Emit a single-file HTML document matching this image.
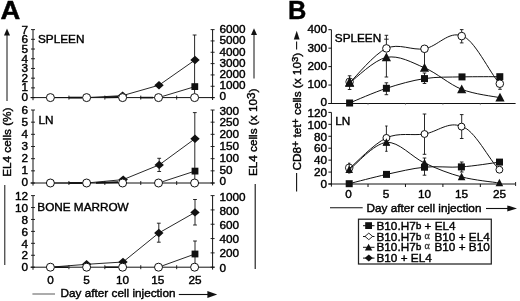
<!DOCTYPE html>
<html><head><meta charset="utf-8"><title>Figure</title>
<style>
html,body{margin:0;padding:0;background:#fff;}
svg{display:block;filter:grayscale(1);}
text{font-family:"Liberation Sans",sans-serif;fill:#000;stroke:#000;stroke-width:0.42px;}
</style></head><body>
<svg width="520" height="301" viewBox="0 0 520 301">
<rect width="520" height="301" fill="#fff"/>
<text transform="translate(0.4,19) scale(1.1,1)" font-size="24.9" font-weight="bold" stroke="#111" stroke-width="0.4">A</text>
<line x1="33" y1="29.6" x2="33" y2="100.19999999999999" stroke="#111" stroke-width="1"/>
<line x1="212.6" y1="29.6" x2="212.6" y2="100.0" stroke="#111" stroke-width="1"/>
<line x1="30.5" y1="97.6" x2="214.6" y2="97.6" stroke="#111" stroke-width="1"/>
<line x1="31" y1="97.6" x2="35" y2="97.6" stroke="#111" stroke-width="0.9"/>
<text x="28" y="101.1" font-size="11.75" text-anchor="end" >0</text>
<line x1="31" y1="87.88571428571429" x2="35" y2="87.88571428571429" stroke="#111" stroke-width="0.9"/>
<text x="28" y="91.4857142857143" font-size="11.75" text-anchor="end" >1</text>
<line x1="31" y1="78.17142857142856" x2="35" y2="78.17142857142856" stroke="#111" stroke-width="0.9"/>
<text x="28" y="81.87142857142857" font-size="11.75" text-anchor="end" >2</text>
<line x1="31" y1="68.45714285714286" x2="35" y2="68.45714285714286" stroke="#111" stroke-width="0.9"/>
<text x="28" y="72.25714285714285" font-size="11.75" text-anchor="end" >3</text>
<line x1="31" y1="58.74285714285714" x2="35" y2="58.74285714285714" stroke="#111" stroke-width="0.9"/>
<text x="28" y="62.642857142857146" font-size="11.75" text-anchor="end" >4</text>
<line x1="31" y1="49.028571428571425" x2="35" y2="49.028571428571425" stroke="#111" stroke-width="0.9"/>
<text x="28" y="53.028571428571425" font-size="11.75" text-anchor="end" >5</text>
<line x1="31" y1="39.31428571428571" x2="35" y2="39.31428571428571" stroke="#111" stroke-width="0.9"/>
<text x="28" y="43.41428571428571" font-size="11.75" text-anchor="end" >6</text>
<line x1="31" y1="29.599999999999994" x2="35" y2="29.599999999999994" stroke="#111" stroke-width="0.9"/>
<text x="28" y="33.8" font-size="11.75" text-anchor="end" >7</text>
<line x1="210.6" y1="97.6" x2="214.6" y2="97.6" stroke="#111" stroke-width="0.9"/>
<text x="219.4" y="100.39999999999999" font-size="11.75" text-anchor="start" >0</text>
<line x1="210.6" y1="86.26666666666667" x2="214.6" y2="86.26666666666667" stroke="#111" stroke-width="0.9"/>
<text x="219.4" y="89.21666666666665" font-size="11.75" text-anchor="start" >1000</text>
<line x1="210.6" y1="74.93333333333332" x2="214.6" y2="74.93333333333332" stroke="#111" stroke-width="0.9"/>
<text x="219.4" y="78.03333333333332" font-size="11.75" text-anchor="start" >2000</text>
<line x1="210.6" y1="63.599999999999994" x2="214.6" y2="63.599999999999994" stroke="#111" stroke-width="0.9"/>
<text x="219.4" y="66.85" font-size="11.75" text-anchor="start" >3000</text>
<line x1="210.6" y1="52.26666666666666" x2="214.6" y2="52.26666666666666" stroke="#111" stroke-width="0.9"/>
<text x="219.4" y="55.66666666666666" font-size="11.75" text-anchor="start" >4000</text>
<line x1="210.6" y1="40.93333333333333" x2="214.6" y2="40.93333333333333" stroke="#111" stroke-width="0.9"/>
<text x="219.4" y="44.483333333333334" font-size="11.75" text-anchor="start" >5000</text>
<line x1="210.6" y1="29.599999999999994" x2="214.6" y2="29.599999999999994" stroke="#111" stroke-width="0.9"/>
<text x="219.4" y="33.3" font-size="11.75" text-anchor="start" >6000</text>
<line x1="50.96" y1="95.6" x2="50.96" y2="99.6" stroke="#111" stroke-width="0.9"/>
<line x1="68.92" y1="95.6" x2="68.92" y2="99.6" stroke="#111" stroke-width="0.9"/>
<line x1="86.88" y1="95.6" x2="86.88" y2="99.6" stroke="#111" stroke-width="0.9"/>
<line x1="104.84" y1="95.6" x2="104.84" y2="99.6" stroke="#111" stroke-width="0.9"/>
<line x1="122.8" y1="95.6" x2="122.8" y2="99.6" stroke="#111" stroke-width="0.9"/>
<line x1="140.76" y1="95.6" x2="140.76" y2="99.6" stroke="#111" stroke-width="0.9"/>
<line x1="158.72" y1="95.6" x2="158.72" y2="99.6" stroke="#111" stroke-width="0.9"/>
<line x1="176.68" y1="95.6" x2="176.68" y2="99.6" stroke="#111" stroke-width="0.9"/>
<line x1="194.64" y1="95.6" x2="194.64" y2="99.6" stroke="#111" stroke-width="0.9"/>
<text x="38" y="43.3" font-size="11.75" text-anchor="start" >SPLEEN</text>
<line x1="33" y1="110.0" x2="33" y2="185.6" stroke="#111" stroke-width="1"/>
<line x1="212.6" y1="110.0" x2="212.6" y2="185.4" stroke="#111" stroke-width="1"/>
<line x1="30.5" y1="183.0" x2="214.6" y2="183.0" stroke="#111" stroke-width="1"/>
<line x1="31" y1="183.0" x2="35" y2="183.0" stroke="#111" stroke-width="0.9"/>
<text x="28" y="185.7" font-size="11.75" text-anchor="end" >0</text>
<line x1="31" y1="170.83333333333334" x2="35" y2="170.83333333333334" stroke="#111" stroke-width="0.9"/>
<text x="28" y="173.68333333333334" font-size="11.75" text-anchor="end" >1</text>
<line x1="31" y1="158.66666666666666" x2="35" y2="158.66666666666666" stroke="#111" stroke-width="0.9"/>
<text x="28" y="161.66666666666666" font-size="11.75" text-anchor="end" >2</text>
<line x1="31" y1="146.5" x2="35" y2="146.5" stroke="#111" stroke-width="0.9"/>
<text x="28" y="149.64999999999998" font-size="11.75" text-anchor="end" >3</text>
<line x1="31" y1="134.33333333333334" x2="35" y2="134.33333333333334" stroke="#111" stroke-width="0.9"/>
<text x="28" y="137.63333333333333" font-size="11.75" text-anchor="end" >4</text>
<line x1="31" y1="122.16666666666666" x2="35" y2="122.16666666666666" stroke="#111" stroke-width="0.9"/>
<text x="28" y="125.61666666666666" font-size="11.75" text-anchor="end" >5</text>
<line x1="31" y1="110.0" x2="35" y2="110.0" stroke="#111" stroke-width="0.9"/>
<text x="28" y="113.60000000000001" font-size="11.75" text-anchor="end" >6</text>
<line x1="210.6" y1="183.0" x2="214.6" y2="183.0" stroke="#111" stroke-width="0.9"/>
<text x="219.4" y="185.29999999999998" font-size="11.75" text-anchor="start" >0</text>
<line x1="210.6" y1="170.83333333333334" x2="214.6" y2="170.83333333333334" stroke="#111" stroke-width="0.9"/>
<text x="219.4" y="173.5" font-size="11.75" text-anchor="start" >50</text>
<line x1="210.6" y1="158.66666666666666" x2="214.6" y2="158.66666666666666" stroke="#111" stroke-width="0.9"/>
<text x="219.4" y="161.7" font-size="11.75" text-anchor="start" >100</text>
<line x1="210.6" y1="146.5" x2="214.6" y2="146.5" stroke="#111" stroke-width="0.9"/>
<text x="219.4" y="149.9" font-size="11.75" text-anchor="start" >150</text>
<line x1="210.6" y1="134.33333333333334" x2="214.6" y2="134.33333333333334" stroke="#111" stroke-width="0.9"/>
<text x="219.4" y="138.1" font-size="11.75" text-anchor="start" >200</text>
<line x1="210.6" y1="122.16666666666666" x2="214.6" y2="122.16666666666666" stroke="#111" stroke-width="0.9"/>
<text x="219.4" y="126.29999999999998" font-size="11.75" text-anchor="start" >250</text>
<line x1="210.6" y1="110.0" x2="214.6" y2="110.0" stroke="#111" stroke-width="0.9"/>
<text x="219.4" y="114.5" font-size="11.75" text-anchor="start" >300</text>
<line x1="50.96" y1="181.0" x2="50.96" y2="185.0" stroke="#111" stroke-width="0.9"/>
<line x1="68.92" y1="181.0" x2="68.92" y2="185.0" stroke="#111" stroke-width="0.9"/>
<line x1="86.88" y1="181.0" x2="86.88" y2="185.0" stroke="#111" stroke-width="0.9"/>
<line x1="104.84" y1="181.0" x2="104.84" y2="185.0" stroke="#111" stroke-width="0.9"/>
<line x1="122.8" y1="181.0" x2="122.8" y2="185.0" stroke="#111" stroke-width="0.9"/>
<line x1="140.76" y1="181.0" x2="140.76" y2="185.0" stroke="#111" stroke-width="0.9"/>
<line x1="158.72" y1="181.0" x2="158.72" y2="185.0" stroke="#111" stroke-width="0.9"/>
<line x1="176.68" y1="181.0" x2="176.68" y2="185.0" stroke="#111" stroke-width="0.9"/>
<line x1="194.64" y1="181.0" x2="194.64" y2="185.0" stroke="#111" stroke-width="0.9"/>
<text x="38.4" y="124.3" font-size="11.75" text-anchor="start" >LN</text>
<line x1="33" y1="195.6" x2="33" y2="269.8" stroke="#111" stroke-width="1"/>
<line x1="212.6" y1="195.6" x2="212.6" y2="269.59999999999997" stroke="#111" stroke-width="1"/>
<line x1="30.5" y1="267.2" x2="214.6" y2="267.2" stroke="#111" stroke-width="1"/>
<line x1="31" y1="267.2" x2="35" y2="267.2" stroke="#111" stroke-width="0.9"/>
<text x="28" y="271.09999999999997" font-size="11.75" text-anchor="end" >0</text>
<line x1="31" y1="255.26666666666665" x2="35" y2="255.26666666666665" stroke="#111" stroke-width="0.9"/>
<text x="28" y="259.29999999999995" font-size="11.75" text-anchor="end" >2</text>
<line x1="31" y1="243.33333333333331" x2="35" y2="243.33333333333331" stroke="#111" stroke-width="0.9"/>
<text x="28" y="247.49999999999997" font-size="11.75" text-anchor="end" >4</text>
<line x1="31" y1="231.39999999999998" x2="35" y2="231.39999999999998" stroke="#111" stroke-width="0.9"/>
<text x="28" y="235.69999999999996" font-size="11.75" text-anchor="end" >6</text>
<line x1="31" y1="219.46666666666667" x2="35" y2="219.46666666666667" stroke="#111" stroke-width="0.9"/>
<text x="28" y="223.89999999999998" font-size="11.75" text-anchor="end" >8</text>
<line x1="31" y1="207.53333333333333" x2="35" y2="207.53333333333333" stroke="#111" stroke-width="0.9"/>
<text x="28" y="212.1" font-size="11.75" text-anchor="end" >10</text>
<line x1="31" y1="195.6" x2="35" y2="195.6" stroke="#111" stroke-width="0.9"/>
<text x="28" y="200.29999999999998" font-size="11.75" text-anchor="end" >12</text>
<line x1="210.6" y1="267.2" x2="214.6" y2="267.2" stroke="#111" stroke-width="0.9"/>
<text x="219.4" y="271.5" font-size="11.75" text-anchor="start" >0</text>
<line x1="210.6" y1="252.88" x2="214.6" y2="252.88" stroke="#111" stroke-width="0.9"/>
<text x="219.4" y="257.40000000000003" font-size="11.75" text-anchor="start" >200</text>
<line x1="210.6" y1="238.56" x2="214.6" y2="238.56" stroke="#111" stroke-width="0.9"/>
<text x="219.4" y="243.29999999999998" font-size="11.75" text-anchor="start" >400</text>
<line x1="210.6" y1="224.24" x2="214.6" y2="224.24" stroke="#111" stroke-width="0.9"/>
<text x="219.4" y="229.20000000000002" font-size="11.75" text-anchor="start" >600</text>
<line x1="210.6" y1="209.92" x2="214.6" y2="209.92" stroke="#111" stroke-width="0.9"/>
<text x="219.4" y="215.1" font-size="11.75" text-anchor="start" >800</text>
<line x1="210.6" y1="195.6" x2="214.6" y2="195.6" stroke="#111" stroke-width="0.9"/>
<text x="219.4" y="201.0" font-size="11.75" text-anchor="start" >1000</text>
<line x1="50.96" y1="265.2" x2="50.96" y2="269.2" stroke="#111" stroke-width="0.9"/>
<line x1="68.92" y1="265.2" x2="68.92" y2="269.2" stroke="#111" stroke-width="0.9"/>
<line x1="86.88" y1="265.2" x2="86.88" y2="269.2" stroke="#111" stroke-width="0.9"/>
<line x1="104.84" y1="265.2" x2="104.84" y2="269.2" stroke="#111" stroke-width="0.9"/>
<line x1="122.8" y1="265.2" x2="122.8" y2="269.2" stroke="#111" stroke-width="0.9"/>
<line x1="140.76" y1="265.2" x2="140.76" y2="269.2" stroke="#111" stroke-width="0.9"/>
<line x1="158.72" y1="265.2" x2="158.72" y2="269.2" stroke="#111" stroke-width="0.9"/>
<line x1="176.68" y1="265.2" x2="176.68" y2="269.2" stroke="#111" stroke-width="0.9"/>
<line x1="194.64" y1="265.2" x2="194.64" y2="269.2" stroke="#111" stroke-width="0.9"/>
<text x="37.3" y="210.9" font-size="11.75" text-anchor="start" >BONE MARROW</text>
<line x1="69" y1="97.6" x2="82" y2="97.6" stroke="#111" stroke-width="1.8"/>
<line x1="105" y1="97.39999999999999" x2="118" y2="97.0" stroke="#111" stroke-width="1.8"/>
<line x1="140" y1="97.6" x2="153" y2="97.6" stroke="#111" stroke-width="1.6"/>
<polyline points="50.4,97.6 86.6,97.6 122.6,95.6 159,85.2 195,60" fill="none" stroke="#111" stroke-width="0.9"/>
<polyline points="158.5,97.6 195,86.6" fill="none" stroke="#111" stroke-width="0.9"/>
<line x1="194.6" y1="35" x2="194.6" y2="97.6" stroke="#111" stroke-width="0.9"/>
<line x1="192.7" y1="35" x2="196.5" y2="35" stroke="#111" stroke-width="0.9"/>
<path d="M117.89999999999999,95.6 L122.6,91.39999999999999 L127.3,95.6 L122.6,99.8Z" fill="#111"/>
<path d="M154.3,85.2 L159,81.0 L163.7,85.2 L159,89.4Z" fill="#111"/>
<path d="M190.3,60 L195,55.8 L199.7,60 L195,64.2Z" fill="#111"/>
<rect x="191.4" y="83.19999999999999" width="6.8" height="6.8" fill="#111"/>
<circle cx="50.4" cy="97.6" r="4" fill="#fff" stroke="#111" stroke-width="1"/>
<circle cx="86.6" cy="97.6" r="4" fill="#fff" stroke="#111" stroke-width="1"/>
<circle cx="122.6" cy="97.6" r="4" fill="#fff" stroke="#111" stroke-width="1"/>
<circle cx="158.5" cy="97.6" r="4" fill="#fff" stroke="#111" stroke-width="1"/>
<circle cx="194.6" cy="97.6" r="4" fill="#fff" stroke="#111" stroke-width="1"/>
<line x1="69" y1="183.0" x2="82" y2="183.0" stroke="#111" stroke-width="1.8"/>
<line x1="96" y1="182.8" x2="118" y2="182.2" stroke="#111" stroke-width="1.8"/>
<polyline points="50.4,183.0 86.6,183.0 123.2,179.6 159.2,164.9 195,138.7" fill="none" stroke="#111" stroke-width="0.9"/>
<polyline points="158.5,183.0 195,171.1" fill="none" stroke="#111" stroke-width="0.9"/>
<line x1="194.8" y1="112.6" x2="194.8" y2="183.0" stroke="#111" stroke-width="0.9"/>
<line x1="192.9" y1="112.6" x2="196.70000000000002" y2="112.6" stroke="#111" stroke-width="0.9"/>
<line x1="159.2" y1="158.3" x2="159.2" y2="171.5" stroke="#111" stroke-width="0.9"/>
<line x1="157.29999999999998" y1="158.3" x2="161.1" y2="158.3" stroke="#111" stroke-width="0.9"/>
<line x1="157.29999999999998" y1="171.5" x2="161.1" y2="171.5" stroke="#111" stroke-width="0.9"/>
<path d="M118.5,179.6 L123.2,175.4 L127.9,179.6 L123.2,183.79999999999998Z" fill="#111"/>
<path d="M154.5,164.9 L159.2,160.70000000000002 L163.89999999999998,164.9 L159.2,169.1Z" fill="#111"/>
<path d="M190.3,138.7 L195,134.5 L199.7,138.7 L195,142.89999999999998Z" fill="#111"/>
<rect x="191.6" y="167.7" width="6.8" height="6.8" fill="#111"/>
<circle cx="50.4" cy="183.0" r="4" fill="#fff" stroke="#111" stroke-width="1"/>
<circle cx="86.6" cy="183.0" r="4" fill="#fff" stroke="#111" stroke-width="1"/>
<circle cx="122.6" cy="183.0" r="4" fill="#fff" stroke="#111" stroke-width="1"/>
<circle cx="158.5" cy="183.0" r="4" fill="#fff" stroke="#111" stroke-width="1"/>
<circle cx="194.6" cy="183.0" r="4" fill="#fff" stroke="#111" stroke-width="1"/>
<line x1="55" y1="267.2" x2="68" y2="267.2" stroke="#111" stroke-width="1.5"/>
<line x1="105" y1="267.2" x2="118" y2="267.2" stroke="#111" stroke-width="1.5"/>
<polyline points="50.4,267.2 86.6,264.3 123,262 158.8,233 195,212.4" fill="none" stroke="#111" stroke-width="0.9"/>
<polyline points="158.5,267.2 195,254" fill="none" stroke="#111" stroke-width="0.9"/>
<line x1="195" y1="199.5" x2="195" y2="225" stroke="#111" stroke-width="0.9"/>
<line x1="193.1" y1="199.5" x2="196.9" y2="199.5" stroke="#111" stroke-width="0.9"/>
<line x1="193.1" y1="225" x2="196.9" y2="225" stroke="#111" stroke-width="0.9"/>
<line x1="158.8" y1="223.2" x2="158.8" y2="242.2" stroke="#111" stroke-width="0.9"/>
<line x1="156.9" y1="223.2" x2="160.70000000000002" y2="223.2" stroke="#111" stroke-width="0.9"/>
<line x1="156.9" y1="242.2" x2="160.70000000000002" y2="242.2" stroke="#111" stroke-width="0.9"/>
<line x1="195" y1="241" x2="195" y2="267.2" stroke="#111" stroke-width="0.9"/>
<line x1="193.1" y1="241" x2="196.9" y2="241" stroke="#111" stroke-width="0.9"/>
<path d="M81.89999999999999,264.3 L86.6,260.1 L91.3,264.3 L86.6,268.5Z" fill="#111"/>
<path d="M118.3,262 L123,257.8 L127.7,262 L123,266.2Z" fill="#111"/>
<path d="M154.10000000000002,233 L158.8,228.8 L163.5,233 L158.8,237.2Z" fill="#111"/>
<path d="M190.3,212.4 L195,208.20000000000002 L199.7,212.4 L195,216.6Z" fill="#111"/>
<rect x="191.6" y="250.6" width="6.8" height="6.8" fill="#111"/>
<circle cx="50.4" cy="267.2" r="4" fill="#fff" stroke="#111" stroke-width="1"/>
<circle cx="86.6" cy="267.2" r="4" fill="#fff" stroke="#111" stroke-width="1"/>
<circle cx="122.6" cy="267.2" r="4" fill="#fff" stroke="#111" stroke-width="1"/>
<circle cx="158.5" cy="267.2" r="4" fill="#fff" stroke="#111" stroke-width="1"/>
<circle cx="194.6" cy="267.2" r="4" fill="#fff" stroke="#111" stroke-width="1"/>
<text x="50.5" y="284" font-size="11.75" text-anchor="middle" >0</text>
<text x="86.6" y="284" font-size="11.75" text-anchor="middle" >5</text>
<text x="122.5" y="284" font-size="11.75" text-anchor="middle" >10</text>
<text x="157.8" y="284" font-size="11.75" text-anchor="middle" >15</text>
<text x="195" y="284" font-size="11.75" text-anchor="middle" >25</text>
<line x1="32.4" y1="294" x2="55" y2="294" stroke="#888" stroke-width="1.4"/>
<text x="60.6" y="297.1" font-size="11.75" text-anchor="start" >Day after cell injection</text>
<line x1="178.8" y1="294.5" x2="209" y2="294.5" stroke="#111" stroke-width="1.1"/>
<path d="M207.4,291 L217.2,294.5 L207.4,298Z" fill="#111"/>
<text transform="translate(11,176.8) rotate(-90)" font-size="11.75">EL4 cells (%)</text>
<line x1="7" y1="34" x2="7" y2="101" stroke="#111" stroke-width="1"/>
<path d="M4,35.6 L7,28.4 L10,35.6Z" fill="#111"/>
<line x1="4.8" y1="185" x2="4.8" y2="265" stroke="#111" stroke-width="1"/>
<text transform="translate(257.2,176.1) rotate(-90)" font-size="11.75">EL4 cells (x 10<tspan dy="-2">3</tspan><tspan dy="2">)</tspan></text>
<line x1="254" y1="34" x2="254" y2="78.5" stroke="#111" stroke-width="1"/>
<path d="M251,35 L254,28.2 L257,35Z" fill="#111"/>
<line x1="255.2" y1="184" x2="255.2" y2="269" stroke="#111" stroke-width="1.1"/>
<text x="288" y="19" font-size="25.4" font-weight="bold" stroke="#111" stroke-width="0.5">B</text>
<line x1="331.4" y1="29.7" x2="331.4" y2="104.0" stroke="#111" stroke-width="1"/>
<line x1="328.4" y1="103.5" x2="515.6" y2="103.5" stroke="#111" stroke-width="1"/>
<line x1="328.4" y1="103.5" x2="331.4" y2="103.5" stroke="#111" stroke-width="1"/>
<text x="327.0" y="106.1" font-size="11.75" text-anchor="end" >0</text>
<line x1="328.4" y1="85.05" x2="331.4" y2="85.05" stroke="#111" stroke-width="1"/>
<text x="327.0" y="87.925" font-size="11.75" text-anchor="end" >100</text>
<line x1="328.4" y1="66.6" x2="331.4" y2="66.6" stroke="#111" stroke-width="1"/>
<text x="327.0" y="69.74999999999999" font-size="11.75" text-anchor="end" >200</text>
<line x1="328.4" y1="48.150000000000006" x2="331.4" y2="48.150000000000006" stroke="#111" stroke-width="1"/>
<text x="327.0" y="51.57500000000001" font-size="11.75" text-anchor="end" >300</text>
<line x1="328.4" y1="29.700000000000003" x2="331.4" y2="29.700000000000003" stroke="#111" stroke-width="1"/>
<text x="327.0" y="33.400000000000006" font-size="11.75" text-anchor="end" >400</text>
<line x1="368.02" y1="103.5" x2="368.02" y2="105.1" stroke="#888" stroke-width="0.8"/>
<line x1="405.46000000000004" y1="103.5" x2="405.46000000000004" y2="105.1" stroke="#888" stroke-width="0.8"/>
<line x1="442.9" y1="103.5" x2="442.9" y2="105.1" stroke="#888" stroke-width="0.8"/>
<line x1="480.34000000000003" y1="103.5" x2="480.34000000000003" y2="105.1" stroke="#888" stroke-width="0.8"/>
<text x="334.8" y="42.1" font-size="11.75" text-anchor="start" >SPLEEN</text>
<line x1="331.4" y1="112.4" x2="331.4" y2="186.6" stroke="#111" stroke-width="1"/>
<line x1="328.4" y1="184" x2="515.6" y2="184" stroke="#111" stroke-width="1"/>
<line x1="328.4" y1="184.0" x2="331.4" y2="184.0" stroke="#111" stroke-width="1"/>
<text x="327.0" y="188.1" font-size="11.75" text-anchor="end" >0</text>
<line x1="328.4" y1="172.06666666666666" x2="331.4" y2="172.06666666666666" stroke="#111" stroke-width="1"/>
<text x="327.0" y="176.21666666666667" font-size="11.75" text-anchor="end" >20</text>
<line x1="328.4" y1="160.13333333333333" x2="331.4" y2="160.13333333333333" stroke="#111" stroke-width="1"/>
<text x="327.0" y="164.33333333333331" font-size="11.75" text-anchor="end" >40</text>
<line x1="328.4" y1="148.2" x2="331.4" y2="148.2" stroke="#111" stroke-width="1"/>
<text x="327.0" y="152.45" font-size="11.75" text-anchor="end" >60</text>
<line x1="328.4" y1="136.26666666666668" x2="331.4" y2="136.26666666666668" stroke="#111" stroke-width="1"/>
<text x="327.0" y="140.56666666666666" font-size="11.75" text-anchor="end" >80</text>
<line x1="328.4" y1="124.33333333333334" x2="331.4" y2="124.33333333333334" stroke="#111" stroke-width="1"/>
<text x="327.0" y="128.68333333333334" font-size="11.75" text-anchor="end" >100</text>
<line x1="328.4" y1="112.4" x2="331.4" y2="112.4" stroke="#111" stroke-width="1"/>
<text x="327.0" y="116.8" font-size="11.75" text-anchor="end" >120</text>
<line x1="368.02" y1="184" x2="368.02" y2="187" stroke="#111" stroke-width="1"/>
<line x1="405.46000000000004" y1="184" x2="405.46000000000004" y2="187" stroke="#111" stroke-width="1"/>
<line x1="442.9" y1="184" x2="442.9" y2="187" stroke="#111" stroke-width="1"/>
<line x1="480.34000000000003" y1="184" x2="480.34000000000003" y2="187" stroke="#111" stroke-width="1"/>
<line x1="515.6" y1="182" x2="515.6" y2="186" stroke="#111" stroke-width="0.9"/>
<text x="335.2" y="125.2" font-size="11.75" text-anchor="start" >LN</text>
<path d="M349.6,82.8 C355.7,77.1 373.9,54.1 386.4,48.4 C398.9,42.7 411.9,50.8 424.5,48.8 C437.1,46.8 449.1,30.3 461.7,36.1 C473.5,37.5 490.0,73.5 499.8,83.7" fill="none" stroke="#111" stroke-width="1.0"/>
<path d="M349.6,82.8 C355.7,78.6 373.9,59.9 386.4,57.4 C398.9,54.9 411.9,62.5 424.5,67.8 C437.1,73.1 449.1,84.3 461.7,89.3 C474.3,94.3 493.6,96.3 500,97.7" fill="none" stroke="#111" stroke-width="1.0"/>
<path d="M349.6,103 C355.7,100.5 373.9,92.4 386.4,88.3 C398.9,84.2 411.9,80.5 424.5,78.6 C437.1,76.7 449.4,77.2 462,76.9 C474.6,76.6 493.5,76.7 499.8,76.7" fill="none" stroke="#111" stroke-width="1.0"/>
<line x1="349.6" y1="75.8" x2="349.6" y2="89.5" stroke="#111" stroke-width="0.9"/>
<line x1="347.8" y1="75.8" x2="351.40000000000003" y2="75.8" stroke="#111" stroke-width="0.9"/>
<line x1="347.8" y1="89.5" x2="351.40000000000003" y2="89.5" stroke="#111" stroke-width="0.9"/>
<line x1="386.4" y1="35.3" x2="386.4" y2="49" stroke="#111" stroke-width="0.9"/>
<line x1="384.59999999999997" y1="35.3" x2="388.2" y2="35.3" stroke="#111" stroke-width="0.9"/>
<line x1="386.4" y1="57" x2="386.4" y2="77" stroke="#111" stroke-width="0.9"/>
<line x1="384.59999999999997" y1="77" x2="388.2" y2="77" stroke="#111" stroke-width="0.9"/>
<line x1="384.09999999999997" y1="39.2" x2="388.7" y2="39.2" stroke="#111" stroke-width="0.9"/>
<line x1="386.4" y1="82.8" x2="386.4" y2="94.7" stroke="#111" stroke-width="0.9"/>
<line x1="384.59999999999997" y1="82.8" x2="388.2" y2="82.8" stroke="#111" stroke-width="0.9"/>
<line x1="384.59999999999997" y1="94.7" x2="388.2" y2="94.7" stroke="#111" stroke-width="0.9"/>
<line x1="424.5" y1="49" x2="424.5" y2="67" stroke="#111" stroke-width="0.9"/>
<line x1="422.7" y1="49" x2="426.3" y2="49" stroke="#111" stroke-width="0.9"/>
<line x1="422.7" y1="67" x2="426.3" y2="67" stroke="#111" stroke-width="0.9"/>
<line x1="424.5" y1="73" x2="424.5" y2="83.5" stroke="#111" stroke-width="0.9"/>
<line x1="422.7" y1="73" x2="426.3" y2="73" stroke="#111" stroke-width="0.9"/>
<line x1="422.7" y1="83.5" x2="426.3" y2="83.5" stroke="#111" stroke-width="0.9"/>
<line x1="461.7" y1="29.6" x2="461.7" y2="42.9" stroke="#111" stroke-width="0.9"/>
<line x1="459.9" y1="29.6" x2="463.5" y2="29.6" stroke="#111" stroke-width="0.9"/>
<line x1="459.9" y1="42.9" x2="463.5" y2="42.9" stroke="#111" stroke-width="0.9"/>
<line x1="500" y1="83" x2="500" y2="89.3" stroke="#111" stroke-width="0.9"/>
<line x1="498.2" y1="89.3" x2="501.8" y2="89.3" stroke="#111" stroke-width="0.9"/>
<rect x="346.1" y="99.5" width="7" height="7" fill="#111"/>
<rect x="382.9" y="84.8" width="7" height="7" fill="#111"/>
<rect x="421.0" y="75.1" width="7" height="7" fill="#111"/>
<rect x="458.5" y="73.4" width="7" height="7" fill="#111"/>
<rect x="496.3" y="73.2" width="7" height="7" fill="#111"/>
<path d="M345.0,86.7 L349.6,77.89999999999999 L354.20000000000005,86.7Z" fill="#111"/>
<path d="M381.79999999999995,61.3 L386.4,52.5 L391.0,61.3Z" fill="#111"/>
<path d="M419.9,71.7 L424.5,62.9 L429.1,71.7Z" fill="#111"/>
<path d="M457.09999999999997,93.2 L461.7,84.39999999999999 L466.3,93.2Z" fill="#111"/>
<path d="M495.4,101.60000000000001 L500,92.8 L504.6,101.60000000000001Z" fill="#111"/>
<circle cx="386.4" cy="48.4" r="3.8" fill="#fff" stroke="#111" stroke-width="1"/>
<circle cx="424.5" cy="48.8" r="3.8" fill="#fff" stroke="#111" stroke-width="1"/>
<circle cx="461.7" cy="36.1" r="3.8" fill="#fff" stroke="#111" stroke-width="1"/>
<circle cx="499.8" cy="83.7" r="3.8" fill="#fff" stroke="#111" stroke-width="1"/>
<path d="M345.1,86.5 L349.6,76.5 L354.1,86.5Z" fill="#111"/>
<circle cx="349.6" cy="81.8" r="3.8" fill="none" stroke="#111" stroke-width="0.9"/>
<path d="M349.3,168.6 C355.5,163.5 373.9,143.7 386.4,137.9 C398.9,132.1 412.0,135.9 424.5,134 C437.0,132.1 449.0,120.6 461.5,126.6 C474.0,128.5 489.5,160.5 499.4,169.7" fill="none" stroke="#111" stroke-width="1.0"/>
<path d="M349.2,169.8 C355.4,165.2 373.8,143.5 386.4,142.4 C398.9,141.3 412.0,157.2 424.5,163 C437.0,168.8 449.1,173.6 461.6,176.9 C474.1,180.2 493.1,182.0 499.4,183" fill="none" stroke="#111" stroke-width="1.0"/>
<path d="M349.2,183.7 C355.4,182.1 373.9,177.2 386.5,174.4 C399.1,171.7 412.0,168.4 424.5,167.2 C437.0,165.9 448.9,167.8 461.4,166.9 C473.9,166.1 493.1,162.9 499.5,162.1" fill="none" stroke="#111" stroke-width="1.0"/>
<line x1="349.2" y1="163.2" x2="349.2" y2="173" stroke="#111" stroke-width="0.9"/>
<line x1="348.0" y1="163.2" x2="350.4" y2="163.2" stroke="#111" stroke-width="0.9"/>
<line x1="348.0" y1="173" x2="350.4" y2="173" stroke="#111" stroke-width="0.9"/>
<line x1="386.4" y1="126" x2="386.4" y2="151.3" stroke="#111" stroke-width="0.9"/>
<line x1="385.2" y1="126" x2="387.59999999999997" y2="126" stroke="#111" stroke-width="0.9"/>
<line x1="385.2" y1="151.3" x2="387.59999999999997" y2="151.3" stroke="#111" stroke-width="0.9"/>
<line x1="424.5" y1="114" x2="424.5" y2="154.3" stroke="#111" stroke-width="0.9"/>
<line x1="422.7" y1="114" x2="426.3" y2="114" stroke="#111" stroke-width="0.9"/>
<line x1="422.7" y1="154.3" x2="426.3" y2="154.3" stroke="#111" stroke-width="0.9"/>
<line x1="424.5" y1="158" x2="424.5" y2="175.2" stroke="#111" stroke-width="0.9"/>
<line x1="422.7" y1="158" x2="426.3" y2="158" stroke="#111" stroke-width="0.9"/>
<line x1="422.7" y1="175.2" x2="426.3" y2="175.2" stroke="#111" stroke-width="0.9"/>
<line x1="461.7" y1="114.6" x2="461.7" y2="138.5" stroke="#111" stroke-width="0.9"/>
<line x1="459.9" y1="114.6" x2="463.5" y2="114.6" stroke="#111" stroke-width="0.9"/>
<line x1="459.9" y1="138.5" x2="463.5" y2="138.5" stroke="#111" stroke-width="0.9"/>
<line x1="461.7" y1="162" x2="461.7" y2="172" stroke="#111" stroke-width="0.9"/>
<line x1="459.9" y1="162" x2="463.5" y2="162" stroke="#111" stroke-width="0.9"/>
<line x1="459.9" y1="172" x2="463.5" y2="172" stroke="#111" stroke-width="0.9"/>
<rect x="345.7" y="180.2" width="7" height="7" fill="#111"/>
<rect x="383.0" y="170.9" width="7" height="7" fill="#111"/>
<rect x="421.0" y="163.7" width="7" height="7" fill="#111"/>
<rect x="457.9" y="163.4" width="7" height="7" fill="#111"/>
<rect x="496.0" y="158.6" width="7" height="7" fill="#111"/>
<path d="M345.4,173.10000000000002 L349.2,165.5 L353.0,173.10000000000002Z" fill="#111"/>
<path d="M382.59999999999997,145.70000000000002 L386.4,138.1 L390.2,145.70000000000002Z" fill="#111"/>
<path d="M420.7,166.3 L424.5,158.7 L428.3,166.3Z" fill="#111"/>
<path d="M457.8,180.20000000000002 L461.6,172.6 L465.40000000000003,180.20000000000002Z" fill="#111"/>
<path d="M495.59999999999997,186.3 L499.4,178.7 L503.2,186.3Z" fill="#111"/>
<circle cx="386.4" cy="137.9" r="3.45" fill="#fff" stroke="#111" stroke-width="1"/>
<circle cx="424.5" cy="134" r="3.45" fill="#fff" stroke="#111" stroke-width="1"/>
<circle cx="461.5" cy="126.6" r="3.45" fill="#fff" stroke="#111" stroke-width="1"/>
<circle cx="499.4" cy="169.7" r="3.45" fill="#fff" stroke="#111" stroke-width="1"/>
<path d="M382.79999999999995,145.4 L386.4,138.20000000000002 L390.0,145.4Z" fill="#111"/>
<circle cx="349.2" cy="167.8" r="3.8" fill="none" stroke="#111" stroke-width="0.9"/>
<text x="348.5" y="198.2" font-size="11.75" text-anchor="middle" >0</text>
<text x="386" y="198.2" font-size="11.75" text-anchor="middle" >5</text>
<text x="424.5" y="198.2" font-size="11.75" text-anchor="middle" >10</text>
<text x="461.5" y="198.2" font-size="11.75" text-anchor="middle" >15</text>
<text x="499.5" y="198.2" font-size="11.75" text-anchor="middle" >25</text>
<line x1="330" y1="207.7" x2="362.7" y2="207.7" stroke="#111" stroke-width="1.1"/>
<text x="366.5" y="212.2" font-size="11.75" text-anchor="start" >Day after cell injection</text>
<line x1="486" y1="208.5" x2="508" y2="208.5" stroke="#111" stroke-width="1.1"/>
<path d="M507.3,205.4 L517,208.4 L507.3,211.4Z" fill="#111"/>
<text transform="translate(300.6,170.4) rotate(-90)" font-size="11.75" textLength="117.6" lengthAdjust="spacingAndGlyphs">CD8<tspan dy="-1.2" font-size="10.5">+</tspan><tspan dy="1.2"> tet</tspan><tspan dy="-1.2" font-size="10.5">+</tspan><tspan dy="1.2"> cells (x 10</tspan><tspan dy="-3" font-size="9.5">3</tspan><tspan dy="3">)</tspan></text>
<line x1="296.6" y1="173" x2="296.6" y2="191.5" stroke="#111" stroke-width="1.1"/>
<line x1="296.6" y1="41.5" x2="296.6" y2="49.5" stroke="#111" stroke-width="1.1"/>
<path d="M293.8,39.6 L296.7,30.8 L299.6,39.6Z" fill="#111"/>
<rect x="358.5" y="219.2" width="132.8" height="44.8" fill="#fff" stroke="#222" stroke-width="1.25"/>
<line x1="363" y1="225.7" x2="374.5" y2="225.7" stroke="#111" stroke-width="1"/>
<line x1="363" y1="236.5" x2="374.5" y2="236.5" stroke="#111" stroke-width="1"/>
<line x1="363" y1="247.3" x2="374.5" y2="247.3" stroke="#111" stroke-width="1"/>
<line x1="363" y1="258.1" x2="374.5" y2="258.1" stroke="#111" stroke-width="1"/>
<rect x="365.20000000000005" y="222.2" width="6.8" height="6.8" fill="#111"/>
<path d="M365,236.4 L368.8,233.1 L372.6,236.4 L368.8,239.70000000000002Z" fill="#fff" stroke="#111" stroke-width="0.9"/>
<path d="M364.90000000000003,250.60000000000002 L368.6,243.8 L372.3,250.60000000000002Z" fill="#111"/>
<path d="M364.8,258.0 L368.8,254.6 L372.8,258.0 L368.8,261.4Z" fill="#111"/>
<text x="376.5" y="229.7" font-size="11.75" text-anchor="start" >B10.H7</text>
<text x="416" y="228.7" font-size="8.4" stroke-width="0.45" textLength="5.3" lengthAdjust="spacingAndGlyphs">b</text>
<text x="424.6" y="229.7" font-size="11.75" text-anchor="start" >+ EL4</text>
<text x="376.5" y="240.5" font-size="11.75" text-anchor="start" >B10.H7</text>
<text x="416" y="239.5" font-size="8.4" stroke-width="0.45" textLength="5.3" lengthAdjust="spacingAndGlyphs">b</text>
<text x="424.6" y="238.5" font-size="10.2" style="font-family:'Liberation Serif',serif;fill:#333;stroke:#333;stroke-width:0.3px">α</text>
<text x="434.5" y="240.5" font-size="11.75" text-anchor="start" >B10 + EL4</text>
<text x="376.5" y="251.3" font-size="11.75" text-anchor="start" >B10.H7</text>
<text x="416" y="250.3" font-size="8.4" stroke-width="0.45" textLength="5.3" lengthAdjust="spacingAndGlyphs">b</text>
<text x="424.6" y="249.3" font-size="10.2" style="font-family:'Liberation Serif',serif;fill:#333;stroke:#333;stroke-width:0.3px">α</text>
<text x="434.5" y="251.3" font-size="11.75" text-anchor="start" >B10 + B10</text>
<text x="376.5" y="262.1" font-size="11.75" text-anchor="start" >B10 + EL4</text>
</svg>
</body></html>
